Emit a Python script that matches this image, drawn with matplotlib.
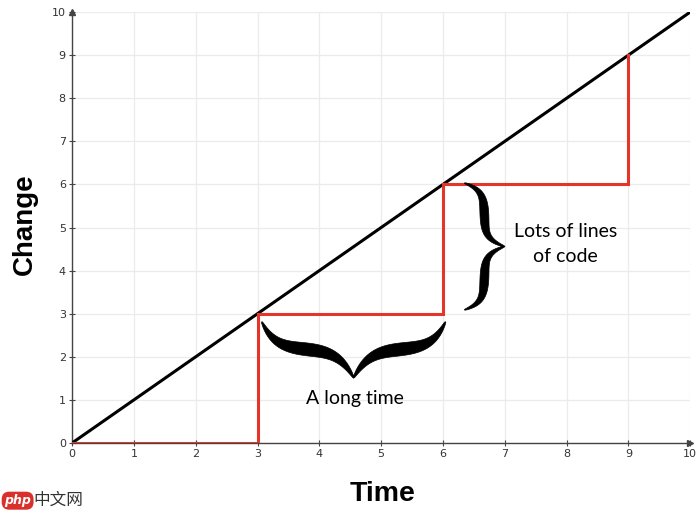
"""Recreate the 'change over time' step chart."""
import numpy as np
import matplotlib
matplotlib.use("Agg")
import matplotlib.pyplot as plt
from matplotlib.patches import Polygon

# data
ideal_x = [0, 10]
ideal_y = [0, 10]
step_x = [0, 3, 3, 6, 6, 9, 9]
step_y = [0, 0, 3, 3, 6, 6, 9]
ticks = list(range(0, 11))


def brace_patch(ax, p0, p1, depth, wmax, k=9, p=9):
    """Filled curly brace from p0 to p1 (data), tip `depth` px to the right of p0->p1."""
    d0 = ax.transData.transform(p0)
    d1 = ax.transData.transform(p1)
    along = d1 - d0
    length = np.hypot(*along)
    t_hat = along / length
    n_hat = np.array([t_hat[1], -t_hat[0]])
    s = np.linspace(0, 1, 401)
    q = 1 - np.abs(2 * s - 1)
    y = depth * (0.5 * (1 - np.exp(-k * q)) + 0.5 * q ** p)
    w = wmax * np.sin(np.pi * q) ** 0.7 + 0.8
    pts = d0 + np.outer(s * length, t_hat) + np.outer(y, n_hat)
    tang = np.gradient(pts, axis=0)
    tang /= np.hypot(tang[:, 0], tang[:, 1])[:, None]
    norm = np.column_stack([tang[:, 1], -tang[:, 0]])
    upper = pts + norm * (w / 2)[:, None]
    lower = pts - norm * (w / 2)[:, None]
    poly = np.vstack([upper, lower[::-1]])
    poly = ax.transData.inverted().transform(poly)
    return Polygon(poly, closed=True, facecolor="black", edgecolor="black",
                   lw=0.5, zorder=5)


fig = plt.figure(figsize=(7, 5.13), dpi=100)
ax = fig.add_axes([0.103, 0.1365, 0.883, 0.84])

ax.plot(ideal_x, ideal_y, color="black", lw=2.2, zorder=3)
ax.plot(step_x, step_y, color="#e5352b", lw=2.2, zorder=4,
        solid_joinstyle="miter")

ax.set_xlim(0, 10)
ax.set_ylim(0, 10)
ax.set_xticks(ticks)
ax.set_yticks(ticks)
ax.grid(True, color="#ebebeb", lw=0.9)
ax.set_axisbelow(True)

for s in ["top", "right"]:
    ax.spines[s].set_visible(False)
for s in ["left", "bottom"]:
    ax.spines[s].set_color("#444444")
    ax.spines[s].set_linewidth(1.0)
ax.tick_params(direction="inout", length=5, width=0.8, colors="#444444",
               labelsize=8, labelcolor="#333333", pad=2)

# arrow heads on the axes
ax.plot(1, 0, ">", color="#444444", ms=4, transform=ax.transAxes,
        clip_on=False)
ax.plot(0, 1, "^", color="#444444", ms=4, transform=ax.transAxes,
        clip_on=False)

ax.set_xlabel("Time", fontsize=20.5, fontweight="bold",
              family="Liberation Sans", va="center")
ax.set_ylabel("Change", fontsize=20, fontweight="bold",
              family="Liberation Sans", va="center")
ax.xaxis.set_label_coords(0.503, -0.118)
ax.yaxis.set_label_coords(-0.076, 0.507)

# braces and notes
ax.add_patch(brace_patch(ax, (3.07, 2.81), (6.04, 2.81), 56, 12, k=7, p=6))
ax.add_patch(brace_patch(ax, (6.35, 3.09), (6.35, 6.03), 40, 8))
ax.text(4.58, 1.04, "A long time", fontsize=14, family="Lato",
        ha="center", va="center")
ax.text(7.98, 4.62, "Lots of lines\nof code", fontsize=14, family="Lato",
        ha="center", va="center", linespacing=1.55)

# watermark
fig.text(0.006, 0.024, "php", fontsize=9, color="white", style="italic",
         fontweight="bold", va="center",
         bbox=dict(boxstyle="round,pad=0.2,rounding_size=0.6",
                   fc="#d9302c", ec="none"))
fig.text(0.048, 0.024, "中文网", fontsize=12, color="#333333",
         va="center", family=["Noto Sans CJK SC", "DejaVu Sans"])

fig.savefig("out.png", dpi=100)
